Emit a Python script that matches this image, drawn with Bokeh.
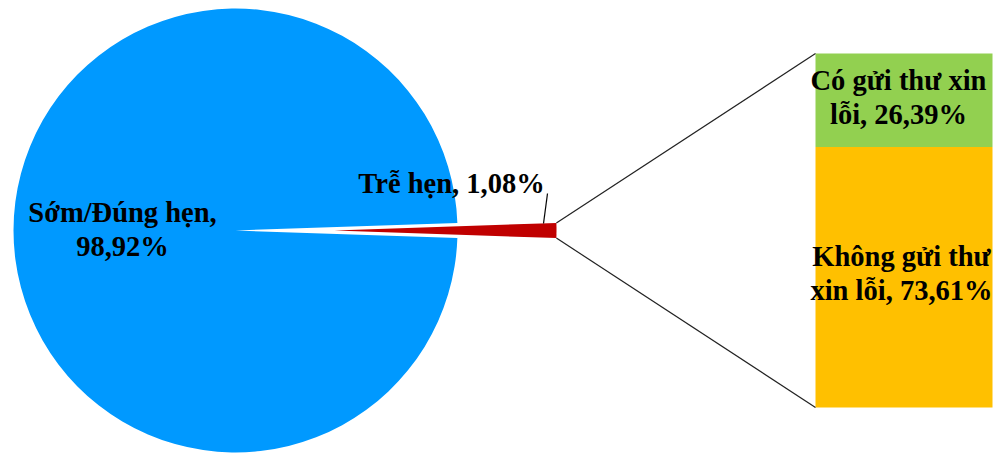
import math
from bokeh.plotting import figure
from bokeh.models import Range1d
from bokeh.core.properties import value
from bokeh.embed import file_html
from bokeh.resources import INLINE

# ---- data ----
main_categories = ["Sớm/Đúng hẹn", "Trễ hẹn"]
main_values = [98.92, 1.08]
main_labels = ["Sớm/Đúng hẹn,\n98,92%", "Trễ hẹn, 1,08%"]
sub_categories = ["Có gửi thư xin lỗi", "Không gửi thư xin lỗi"]
sub_values = [26.39, 73.61]
sub_labels = ["Có gửi thư xin\nlỗi, 26,39%", "Không gửi thư\nxin lỗi, 73,61%"]
main_colors = ["#0099FF", "#C00000"]
sub_colors = ["#92D050", "#FFC000"]

W, H = 995, 453
p = figure(width=W, height=H, output_backend="svg", toolbar_location=None,
           x_range=Range1d(0, W), y_range=Range1d(0, H), min_border=0,
           match_aspect=False)
p.axis.visible = False
p.grid.visible = False
p.outline_line_color = None
p.background_fill_color = "white"
p.border_fill_color = "white"

def Y(y):  # image y -> data y
    return H - y

FONT = "Liberation Serif"
FS = "28.5px"

# ---- main pie ----
cx, cy, r = 235, 230, 222
explode = 99
total = sum(main_values)
half = math.pi * main_values[1] / total  # half angle of small slice
p.wedge(x=[cx], y=[Y(cy)], radius=r, start_angle=half, end_angle=2 * math.pi - half,
        fill_color=main_colors[0], line_color=None)
ax = cx + explode
p.wedge(x=[ax], y=[Y(cy)], radius=r, start_angle=-half, end_angle=half,
        fill_color=main_colors[1], line_color=None)

# ---- bar of pie ----
bx0, bx1, btop, bbot = 815, 992, 53, 407
bh = bbot - btop
stotal = sum(sub_values)
tops, bottoms = [], []
cur = btop
for v in sub_values:
    tops.append(Y(cur))
    cur += bh * v / stotal
    bottoms.append(Y(cur))
p.quad(left=[bx0] * 2, right=[bx1] * 2, top=tops, bottom=bottoms,
       fill_color=sub_colors, line_color=None)

# connector lines
ex = ax + r * math.cos(half)
ey_top = cy - r * math.sin(half)
ey_bot = cy + r * math.sin(half)
p.segment(x0=[ex, ex], y0=[Y(ey_top), Y(ey_bot)], x1=[bx0, bx0], y1=[Y(btop), Y(bbot)],
          line_color="#222222", line_width=1.2)

# leader line for small slice label
p.segment(x0=[547], y0=[Y(193)], x1=[543], y1=[Y(223)], line_color="#000000", line_width=1.2)

# ---- labels ----
lx = [122, 451, 898, 901]
ly = [229, 183, 97, 273]
texts = main_labels + sub_labels
p.text(x=lx, y=[Y(v) for v in ly], text=texts, text_align="center", text_baseline="middle",
       text_font=value(FONT), text_font_style="bold", text_font_size=FS,
       text_color="#000000", text_line_height=1.1)

open("out.html", "w").write(file_html(p, INLINE))
